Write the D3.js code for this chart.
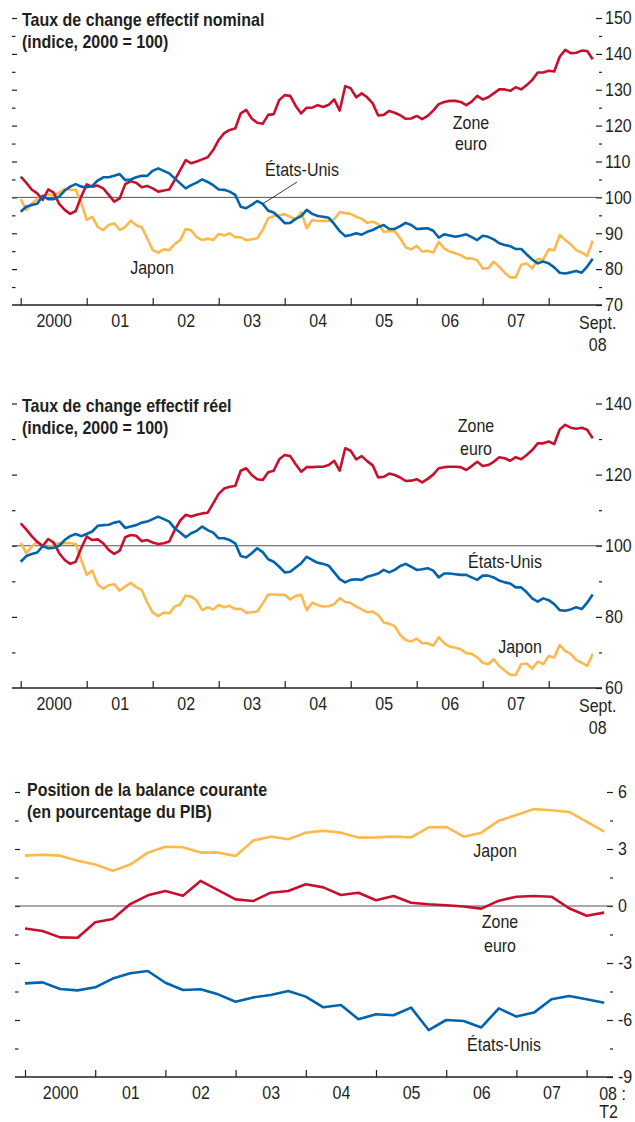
<!DOCTYPE html>
<html>
<head>
<meta charset="utf-8">
<script src="https://cdn.jsdelivr.net/npm/d3@7"></script>
<style>
  body { margin: 0; background: #fff; }
  svg text { font-family: "Liberation Sans", Arial, sans-serif; fill: #231f20; }
  .tick text, .label { font-size: 18px; }
  .title { font-size: 18px; font-weight: bold; }
</style>
</head>
<body>
<svg id="chart" width="635" height="1122"></svg>
<script>
// monthly series, Jan 2000 .. Sept 2008
var nominalEuro = [105.8, 104.1, 102.2, 101.1, 99.3, 102.2, 101.3, 98.2, 96.5, 95.4,
  96.2, 100.2, 103.6, 103.0, 103.3, 102.5, 100.7, 98.8, 99.7, 103.7,
  104.5, 104.1, 102.8, 103.2, 102.5, 101.6, 101.9, 102.2, 104.8, 107.6,
  110.4, 109.5, 110.0, 110.6, 111.2, 113.2, 116.0, 117.9, 118.8, 119.2,
  123.4, 124.4, 122.0, 120.8, 120.5, 123.0, 123.2, 127.1, 128.5, 128.3,
  125.5, 123.4, 125.0, 125.0, 125.7, 125.2, 125.8, 127.3, 124.2, 131.0,
  130.4, 127.9, 129.0, 127.9, 126.2, 122.8, 123.0, 124.1, 123.6, 122.9,
  121.9, 122.0, 122.7, 121.8, 122.7, 124.2, 126.0, 126.6, 126.9, 126.9,
  126.6, 125.7, 126.7, 128.3, 127.3, 127.9, 129.0, 130.1, 130.1, 129.7,
  130.7, 130.1, 131.3, 132.7, 134.8, 134.8, 135.3, 135.1, 139.2, 141.1,
  140.2, 140.3, 140.9, 140.8, 138.5];
var nominalUS = [96.0, 97.4, 97.9, 98.2, 100.4, 99.5, 99.5, 100.2, 101.9, 103.0,
  103.7, 103.0, 102.8, 103.2, 104.7, 105.6, 105.6, 106.0, 106.5, 104.8,
  105.0, 105.6, 106.0, 106.0, 107.4, 108.1, 107.4, 106.7, 105.3, 103.9,
  102.5, 103.4, 104.1, 105.0, 104.3, 103.4, 102.2, 102.1, 101.6, 100.7,
  97.4, 97.0, 97.9, 99.0, 98.2, 96.3, 95.8, 94.4, 92.8, 92.9,
  94.0, 94.8, 96.5, 95.4, 94.8, 94.6, 94.3, 92.6, 90.6, 89.2,
  89.5, 90.0, 89.6, 90.4, 90.9, 91.7, 92.3, 91.2, 91.2, 92.0,
  92.9, 92.3, 91.2, 91.3, 91.4, 90.7, 88.8, 89.7, 89.4, 89.0,
  89.3, 89.7, 88.9, 88.1, 89.3, 89.0, 88.3, 87.2, 86.7, 86.4,
  85.6, 85.6, 84.1, 82.7, 81.6, 82.1, 81.6, 80.5, 79.0, 78.8,
  79.1, 79.5, 79.0, 80.7, 82.9];
var nominalJapan = [99.5, 96.5, 98.3, 99.5, 100.4, 100.9, 100.4, 101.3, 102.4, 102.1,
  102.1, 98.5, 93.7, 94.6, 91.8, 90.9, 92.3, 92.8, 90.9, 91.8,
  93.5, 92.2, 91.7, 88.6, 85.3, 84.6, 85.5, 85.3, 87.0, 88.1,
  91.2, 90.8, 88.9, 88.1, 88.5, 88.1, 89.8, 89.4, 90.0, 88.9,
  88.9, 88.1, 88.3, 88.6, 90.9, 94.2, 94.8, 95.0, 95.3, 94.6,
  93.9, 95.8, 91.4, 93.7, 93.4, 93.5, 93.4, 93.9, 95.9, 95.6,
  95.4, 94.6, 94.0, 92.9, 93.2, 92.6, 90.4, 90.6, 90.6, 88.6,
  86.1, 85.5, 86.5, 84.9, 85.1, 84.6, 87.6, 85.8, 84.9, 84.4,
  83.9, 83.0, 83.0, 82.5, 80.2, 80.2, 82.1, 80.7, 79.0, 77.7,
  77.7, 81.2, 81.6, 80.2, 82.8, 82.7, 85.5, 85.3, 89.5, 88.1,
  86.9, 85.3, 84.6, 83.7, 87.9];

var realEuro = [106.3, 104.6, 102.7, 101.1, 99.9, 101.9, 100.9, 97.9, 96.0, 94.9,
  95.5, 99.3, 102.6, 101.6, 101.8, 100.7, 98.8, 97.7, 98.6, 102.4,
  103.0, 102.8, 101.3, 101.6, 100.9, 100.5, 100.7, 101.2, 104.4, 107.1,
  108.7, 108.2, 108.7, 109.1, 109.3, 111.9, 114.6, 116.1, 116.6, 116.8,
  121.1, 121.8, 119.9, 118.7, 118.5, 120.7, 121.1, 124.3, 125.5, 125.2,
  122.9, 120.8, 122.1, 122.1, 122.2, 122.2, 122.7, 123.9, 121.1, 127.4,
  126.7, 124.3, 125.2, 123.8, 122.6, 119.2, 119.4, 120.3, 119.9, 119.2,
  118.2, 118.3, 118.7, 117.8, 118.8, 120.0, 121.8, 122.1, 122.2, 122.2,
  122.1, 121.3, 122.4, 123.6, 122.4, 122.7, 123.6, 124.9, 124.6, 123.9,
  124.9, 124.3, 125.5, 126.9, 128.8, 128.8, 129.3, 128.6, 132.7, 134.0,
  133.2, 132.9, 133.2, 132.6, 130.2];
var realUS = [95.5, 97.1, 97.7, 98.1, 99.9, 99.3, 99.4, 100.0, 101.6, 102.7,
  103.3, 102.7, 103.3, 104.0, 105.6, 105.8, 105.9, 106.5, 106.8, 105.0,
  105.4, 105.8, 106.5, 106.8, 107.5, 108.2, 107.5, 106.8, 104.9, 103.7,
  102.4, 103.5, 104.2, 105.4, 104.4, 103.7, 102.1, 102.1, 101.6, 100.7,
  97.1, 96.7, 97.9, 99.3, 98.2, 96.2, 95.5, 94.1, 92.5, 92.7,
  93.9, 95.1, 96.9, 96.0, 95.2, 94.9, 94.4, 92.5, 90.6, 89.7,
  90.4, 90.6, 90.4, 91.3, 91.7, 92.2, 93.2, 92.5, 93.2, 94.3,
  94.9, 94.1, 93.2, 93.4, 93.7, 93.0, 91.1, 92.2, 92.2, 92.0,
  91.8, 91.8, 91.1, 90.4, 91.6, 91.6, 91.1, 90.2, 89.7, 89.4,
  88.3, 88.3, 86.9, 85.2, 84.3, 85.2, 84.7, 83.6, 81.9, 81.7,
  82.1, 82.7, 82.2, 84.0, 86.3];
var realJapan = [100.9, 97.9, 99.7, 101.1, 99.9, 99.5, 100.2, 100.7, 100.8, 100.7,
  100.5, 96.0, 91.8, 93.0, 89.2, 87.9, 88.9, 89.2, 87.4, 88.5,
  89.6, 88.3, 87.6, 84.0, 81.2, 80.2, 81.2, 81.0, 82.9, 83.5,
  86.0, 85.7, 84.6, 81.9, 82.7, 82.1, 83.3, 82.7, 83.1, 82.2,
  82.3, 81.2, 81.3, 81.5, 83.8, 86.3, 86.3, 86.2, 86.2, 84.9,
  85.9, 86.2, 81.9, 84.0, 83.3, 82.9, 83.0, 83.6, 85.3, 84.2,
  83.9, 82.9, 82.1, 81.3, 81.5, 80.5, 78.4, 78.1, 77.4, 74.9,
  73.5, 73.1, 73.9, 72.6, 72.6, 71.9, 74.3, 72.6, 71.6, 71.3,
  70.9, 69.8, 69.6, 68.6, 67.1, 66.7, 68.1, 66.2, 64.9, 63.7,
  63.7, 66.7, 66.9, 65.4, 67.4, 66.7, 69.0, 68.6, 72.1, 70.4,
  69.6, 67.9, 67.1, 66.2, 69.6];

// quarterly series, 2000 Q1 .. 2008 Q2 (% of GDP)
var currentJapan = [2.65, 2.70, 2.65, 2.38, 2.18, 1.86, 2.18, 2.81, 3.12, 3.09,
  2.81, 2.81, 2.63, 3.44, 3.65, 3.51, 3.86, 3.96, 3.86, 3.60,
  3.61, 3.65, 3.61, 4.14, 4.16, 3.65, 3.86, 4.49, 4.79, 5.10,
  5.04, 4.95, 4.44, 3.91];
var currentEuro = [-1.18, -1.32, -1.65, -1.67, -0.86, -0.68, 0.10, 0.56, 0.79, 0.54,
  1.32, 0.84, 0.35, 0.26, 0.70, 0.79, 1.14, 0.98, 0.58, 0.70,
  0.30, 0.53, 0.17, 0.09, 0.04, -0.03, -0.14, 0.28, 0.49, 0.53,
  0.49, -0.12, -0.51, -0.35];
var currentUS = [-4.07, -4.02, -4.37, -4.44, -4.28, -3.82, -3.54, -3.42, -4.04, -4.42,
  -4.38, -4.65, -5.04, -4.81, -4.68, -4.47, -4.77, -5.33, -5.21, -5.96,
  -5.70, -5.75, -5.35, -6.53, -6.00, -6.05, -6.39, -5.39, -5.82, -5.61,
  -4.91, -4.74, -4.91, -5.09];

var years = [2000, 2001, 2002, 2003, 2004, 2005, 2006, 2007, 2008];
var yearLabels = ["2000", "01", "02", "03", "04", "05", "06", "07"];

var RED = "#c8102e", BLUE = "#0063ae", YELLOW = "#fdb94e";
var CONDENSE = 0.89; // no condensed face installed, so squeeze the text

var svg = d3.select("#chart");

var panels = [
  {
    title: ["Taux de change effectif nominal", "(indice, 2000 = 100)"],
    titleX: 22, titleY: [26, 48],
    yDomain: [70, 150], yRange: [305, 18], minorStep: 5, majorStep: 10,
    left: 12, right: 602, x0: 20.7, yearWidth: 66, labelX: 605,
    ref: 100, step: 1 / 12,
    series: [[nominalJapan, YELLOW], [nominalEuro, RED], [nominalUS, BLUE]],
    labels: [["Zone", 471, 129], ["euro", 471, 150], ["États-Unis", 302, 176], ["Japon", 152, 274]],
    leader: { from: [297, 182], series: nominalUS, index: 44 },
    last: ["Sept.", "08"], lastDx: 5, lastAnchor: "middle", lastY: [329, 351]
  },
  {
    title: ["Taux de change effectif réel", "(indice, 2000 = 100)"],
    titleX: 22, titleY: [412, 434],
    yDomain: [60, 140], yRange: [688, 403.5], minorStep: 10, majorStep: 20,
    left: 12, right: 602, x0: 20.7, yearWidth: 66, labelX: 605,
    ref: 100, step: 1 / 12,
    series: [[realJapan, YELLOW], [realEuro, RED], [realUS, BLUE]],
    labels: [["Zone", 476, 432], ["euro", 476, 455], ["États-Unis", 505, 568], ["Japon", 520, 653]],
    last: ["Sept.", "08"], lastDx: 5, lastAnchor: "middle", lastY: [712, 734]
  },
  {
    title: ["Position de la balance courante", "(en pourcentage du PIB)"],
    titleX: 27, titleY: [796, 818],
    yDomain: [-9, 6], yRange: [1077, 792], minorStep: 1.5, majorStep: 3,
    left: 15, right: 613, x0: 25, yearWidth: 70.2, labelX: 618,
    ref: 0, step: 1 / 4,
    series: [[currentJapan, YELLOW], [currentEuro, RED], [currentUS, BLUE]],
    labels: [["Japon", 495, 857], ["Zone", 500, 928], ["euro", 500, 952], ["États-Unis", 504, 1051]],
    last: ["08 :", "T2"], lastDx: -5, lastAnchor: "start", lastY: [1100, 1118]
  }
];

panels.forEach(drawPanel);

svg.selectAll("text").each(function() {
  var t = d3.select(this);
  var tx = +t.attr("x") || 0;
  t.attr("x", tx / CONDENSE).attr("transform", "scale(" + CONDENSE + ",1)");
});

function drawPanel(p) {
  var g = svg.append("g");
  var x = d3.scaleLinear().domain([2000, 2009]).range([p.x0, p.x0 + 9 * p.yearWidth]);
  var y = d3.scaleLinear().domain(p.yDomain).range(p.yRange);

  var minor = d3.range(p.yDomain[0], p.yDomain[1] + 1e-6, p.minorStep);
  var major = minor.filter(function(v) { return Math.abs(v / p.majorStep - Math.round(v / p.majorStep)) < 1e-6; });
  var minorOnly = minor.filter(function(v) { return major.indexOf(v) < 0; });

  // right-hand scale, ticks pointing inwards
  g.append("g").attr("transform", "translate(" + p.right + ",0)")
    .call(d3.axisRight(y).tickValues(major).tickSizeInner(-6).tickSizeOuter(0)
      .tickPadding(p.labelX - p.right).tickFormat(function(d) { return String(d); }))
    .call(styleAxis);
  g.append("g").attr("transform", "translate(" + p.right + ",0)")
    .call(d3.axisRight(y).tickValues(minorOnly).tickSizeInner(-3).tickSizeOuter(0).tickFormat(""))
    .call(styleAxis);

  // left-hand ticks, no labels
  g.append("g").attr("transform", "translate(" + p.left + ",0)")
    .call(d3.axisRight(y).tickValues(major.filter(function(v) { return v > p.yDomain[0]; })).tickSizeInner(5).tickSizeOuter(0).tickFormat(""))
    .call(styleAxis);
  g.append("g").attr("transform", "translate(" + p.left + ",0)")
    .call(d3.axisRight(y).tickValues(minorOnly).tickSizeInner(3.5).tickSizeOuter(0).tickFormat(""))
    .call(styleAxis);

  // reference line
  g.append("line")
    .attr("x1", p.left).attr("x2", p.right)
    .attr("y1", y(p.ref)).attr("y2", y(p.ref))
    .attr("stroke", "#555").attr("stroke-width", 1);

  // bottom axis: year ticks pointing up, labels centred on the year
  var base = y(p.yDomain[0]);
  g.append("g").attr("transform", "translate(0," + base + ")")
    .call(d3.axisBottom(x).tickValues(years).tickSizeInner(-7).tickSizeOuter(0).tickFormat(""))
    .call(styleAxis);
  g.append("g").attr("transform", "translate(0," + base + ")")
    .call(d3.axisBottom(x).tickValues(yearLabels.map(function(d, i) { return years[i] + 0.5; }))
      .tickSize(0).tickPadding(9).tickFormat(function(d, i) { return yearLabels[i]; }))
    .call(styleAxis);
  g.append("line")
    .attr("x1", p.left).attr("x2", p.right)
    .attr("y1", base).attr("y2", base)
    .attr("stroke", "#231f20").attr("stroke-width", 1.4);

  var lastX = x(2000 + (p.series[0][0].length - 1) * p.step) + p.lastDx;
  p.last.forEach(function(t, i) {
    g.append("text").attr("class", "label")
      .attr("x", lastX).attr("y", p.lastY[i])
      .attr("text-anchor", p.lastAnchor).text(t);
  });

  // series
  var line = d3.line()
    .x(function(d, i) { return x(2000 + i * p.step); })
    .y(function(d) { return y(d); });
  p.series.forEach(function(s) {
    g.append("path").datum(s[0])
      .attr("d", line)
      .attr("fill", "none")
      .attr("stroke", s[1])
      .attr("stroke-width", 2.6)
      .attr("stroke-linejoin", "round");
  });

  if (p.leader) {
    var li = p.leader.index;
    g.append("line")
      .attr("x1", p.leader.from[0]).attr("y1", p.leader.from[1])
      .attr("x2", x(2000 + li * p.step)).attr("y2", y(p.leader.series[li]))
      .attr("stroke", "#231f20").attr("stroke-width", 0.9);
  }

  p.labels.forEach(function(l) {
    g.append("text").attr("class", "label")
      .attr("x", l[1]).attr("y", l[2])
      .attr("text-anchor", "middle").text(l[0]);
  });

  p.title.forEach(function(t, i) {
    g.append("text").attr("class", "title")
      .attr("x", p.titleX).attr("y", p.titleY[i]).text(t);
  });
}

function styleAxis(sel) {
  sel.attr("font-size", null).attr("font-family", null).attr("color", "#231f20");
  sel.select(".domain").remove();
  sel.selectAll(".tick line").attr("stroke-width", 1.2);
}
</script>
</body>
</html>
